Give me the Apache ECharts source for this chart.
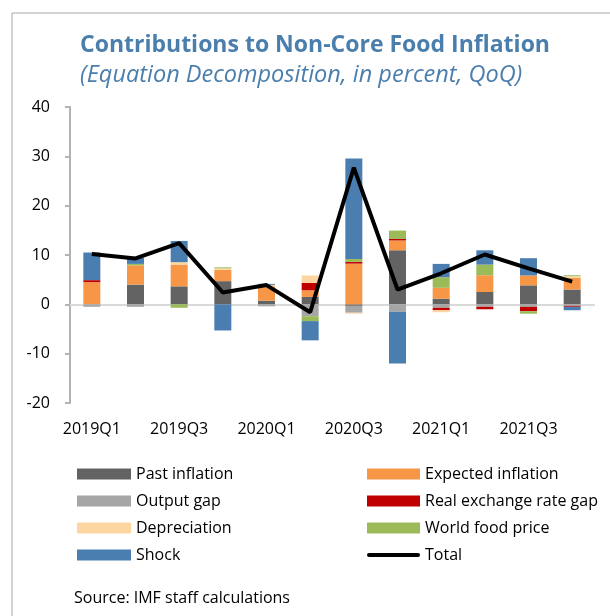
<!DOCTYPE html>
<html>
<head>
<meta charset="utf-8">
<script src="https://cdn.jsdelivr.net/npm/echarts@6/dist/echarts.min.js"></script>
<style>
html,body{margin:0;padding:0;background:#fff;}
#c{width:610px;height:616px;}
</style>
</head>
<body>
<div id="c"></div>
<script>
var categories = ['2019Q1','2019Q2','2019Q3','2019Q4','2020Q1','2020Q2','2020Q3','2020Q4','2021Q1','2021Q2','2021Q3','2021Q4'];
var pastInflation     = [0.0, 4.0, 3.65, 4.7, 0.75, 1.5, -0.3, 10.95, 1.15, 2.5, 3.85, 3.0];
var expectedInflation = [4.5, 3.9, 4.4, 2.3, 2.9, 1.35, 8.25, 2.0, 2.2, 3.4, 2.0, 2.4];
var outputGap         = [-0.5, -0.5, 0, 0, -0.4, -2.4, -1.4, -1.5, -0.7, -0.5, -0.5, -0.3];
var realExchangeGap   = [0.4, 0, 0, 0, 0, 1.5, 0.35, 0.3, -0.5, -0.5, -0.9, -0.2];
var depreciation      = [0, 0, 0.5, 0.3, 0.3, 1.5, -0.2, 0, -0.4, 0, 0, 0.3];
var worldFoodPrice    = [0, 0.3, -0.7, 0.2, 0, -1.0, 0.6, 1.7, 2.15, 2.15, -0.5, 0.2];
var shock             = [5.6, 1.2, 4.3, -5.3, 0.2, -3.9, 20.35, -10.5, 2.7, 2.9, 3.5, -0.7];
var total             = [10.2, 9.3, 12.4, 2.4, 3.9, -1.6, 27.7, 3.0, 6.3, 10.1, 7.3, 4.6];
var yTicks = {min: -20, max: 40, interval: 10};

var FONT = 'Open Sans';
var chart = echarts.init(document.getElementById('c'), null, {renderer: 'canvas'});

function bar(name, data, color) {
  return {
    name: name, type: 'bar', stack: 'all', data: data, barWidth: 17,
    itemStyle: {color: color}, z: 2, silent: true
  };
}

var lineIcon = 'path://M0,0 M53,11 M2,3.5 L51,3.5 A2,2 0 0 1 51,7.5 L2,7.5 A2,2 0 0 1 2,3.5 Z';

var option = {
  animation: false,
  backgroundColor: '#ffffff',
  textStyle: {fontFamily: FONT},
  title: [
    {text: 'Contributions to Non-Core Food Inflation', left: 80, top: 34, padding: 0,
     textStyle: {fontFamily: FONT, fontSize: 23, fontWeight: 'bold', color: '#4A7EAD'}},
    {text: '(Equation Decomposition, in percent, QoQ)', left: 80, top: 64, padding: 0,
     textStyle: {fontFamily: FONT, fontSize: 23.5, fontWeight: 'normal', fontStyle: 'italic', color: '#4A7EAD'}}
  ],
  grid: {left: 70, right: 16, top: 107, bottom: 213, containLabel: false},
  xAxis: [
    {type: 'category', data: categories, position: 'bottom',
     axisLine: {show: false, onZero: false}, axisTick: {show: false},
     axisLabel: {interval: 1, color: '#000', fontSize: 16, fontFamily: FONT, margin: 18}},
    {type: 'category', data: categories, position: 'bottom',
     axisLine: {show: true, onZero: true, lineStyle: {color: '#D9D9D9', width: 2}},
     axisTick: {show: false}, axisLabel: {show: false}}
  ],
  yAxis: {
    type: 'value', min: yTicks.min, max: yTicks.max, interval: yTicks.interval,
    axisLine: {show: true, lineStyle: {color: '#B3B3B3', width: 2}},
    axisTick: {show: true, length: 5, lineStyle: {color: '#B3B3B3', width: 2}},
    splitLine: {show: false},
    axisLabel: {color: '#000', fontSize: 16, fontFamily: FONT, margin: 20}
  },
  legend: [
    {orient: 'vertical', left: 77, top: 465, padding: 0, itemWidth: 54, itemHeight: 11, itemGap: 9,
     textStyle: {fontSize: 16, fontFamily: FONT, color: '#000', lineHeight: 18},
     data: [{name: 'Past inflation', icon: 'rect'}, {name: 'Output gap', icon: 'rect'},
            {name: 'Depreciation', icon: 'rect'}, {name: 'Shock', icon: 'rect'}],
     selectedMode: false},
    {orient: 'vertical', left: 367, top: 465, padding: 0, itemWidth: 53, itemHeight: 11, itemGap: 9,
     textStyle: {fontSize: 16, fontFamily: FONT, color: '#000', lineHeight: 18},
     data: [{name: 'Expected inflation', icon: 'rect'}, {name: 'Real exchange rate gap', icon: 'rect'},
            {name: 'World food price', icon: 'rect'}, {name: 'Total', icon: lineIcon}],
     selectedMode: false}
  ],
  graphic: [
    {type: 'polyline', shape: {points: [[12, 616], [12, 13], [610, 13]]},
     style: {stroke: '#A6A6A6', lineWidth: 1, fill: null}, silent: true},
    {type: 'text', left: 74, top: 590,
     style: {text: 'Source: IMF staff calculations', fontSize: 16, fontFamily: FONT, fill: '#000'}}
  ],
  series: [
    bar('Past inflation', pastInflation, '#636363'),
    bar('Expected inflation', expectedInflation, '#F79646'),
    bar('Output gap', outputGap, '#A6A6A6'),
    bar('Real exchange rate gap', realExchangeGap, '#C00000'),
    bar('Depreciation', depreciation, '#FCD5A0'),
    bar('World food price', worldFoodPrice, '#9BBB59'),
    bar('Shock', shock, '#4A7EB0'),
    {name: 'Total', type: 'line', data: total, symbol: 'none', z: 5, silent: true,
     lineStyle: {color: '#000', width: 4}, itemStyle: {color: '#000'}}
  ]
};
chart.setOption(option);
</script>
</body>
</html>
